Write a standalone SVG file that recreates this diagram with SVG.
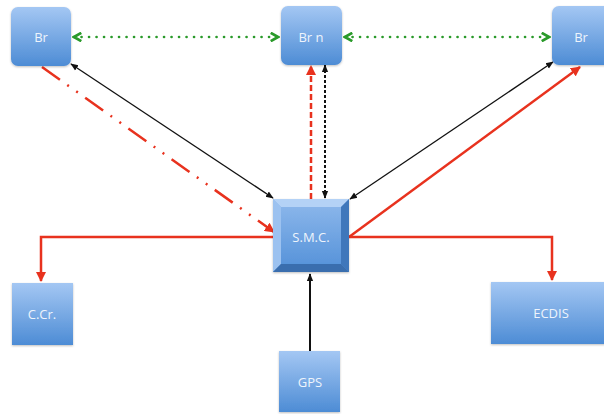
<svg xmlns="http://www.w3.org/2000/svg" width="604" height="414" viewBox="0 0 604 414">
  <defs>
    <linearGradient id="boxFill" x1="0" y1="0" x2="0" y2="1">
      <stop offset="0" stop-color="#a4c7f3"/>
      <stop offset="1" stop-color="#4d8cd5"/>
    </linearGradient>
    <linearGradient id="faceFill" x1="0" y1="0" x2="0" y2="1">
      <stop offset="0" stop-color="#8fb9ec"/>
      <stop offset="1" stop-color="#5290d8"/>
    </linearGradient>
    <marker id="arrRed" viewBox="0 0 10 10" refX="9" refY="5" markerWidth="4" markerHeight="4" orient="auto-start-reverse" markerUnits="strokeWidth">
      <path d="M0,0 L10,5 L0,10 z" fill="#e8321e"/>
    </marker>
    <marker id="arrBlack" viewBox="0 0 10 10" refX="9" refY="5" markerWidth="6" markerHeight="6" orient="auto-start-reverse" markerUnits="strokeWidth">
      <path d="M0,1 L10,5 L0,9 z" fill="#111"/>
    </marker>
    <marker id="arrBlackThick" viewBox="0 0 10 10" refX="9" refY="5" markerWidth="4" markerHeight="4" orient="auto-start-reverse" markerUnits="strokeWidth">
      <path d="M0,1 L10,5 L0,9 z" fill="#111"/>
    </marker>
    <marker id="arrGreen" viewBox="0 0 10 10" refX="8" refY="5" markerWidth="4" markerHeight="4" orient="auto-start-reverse" markerUnits="strokeWidth">
      <path d="M1,1 L8,5 L1,9" fill="none" stroke="#2a9a2a" stroke-width="2.6"/>
    </marker>
    <filter id="shadow" x="-10%" y="-10%" width="130%" height="130%">
      <feDropShadow dx="0" dy="1" stdDeviation="1" flood-color="#000" flood-opacity="0.25"/>
    </filter>
  </defs>
  <style>
    .node { fill: url(#boxFill); filter: url(#shadow); }
    .label { font-family: "Open Sans", "Liberation Sans", sans-serif; font-size: 13px; fill: #eef4fc; text-anchor: middle; }
    .red { stroke: #e8321e; stroke-width: 2.5; fill: none; }
    .black { stroke: #111; stroke-width: 1.3; fill: none; }
    .black.thick { stroke-width: 2; }
    .green { stroke: #2a9a2a; stroke-width: 2.6; fill: none; stroke-dasharray: 0.1 7.4; stroke-linecap: round; }
  </style>
  <rect width="604" height="414" fill="#ffffff"/>

  <g id="connectors">
    <!-- dotted links between bridges -->
    <line class="green" x1="74" y1="37" x2="278" y2="37" marker-start="url(#arrGreen)" marker-end="url(#arrGreen)"/>
    <line class="green" x1="345" y1="37" x2="549" y2="37" marker-start="url(#arrGreen)" marker-end="url(#arrGreen)"/>
    <!-- black two-way links -->
    <line class="black" x1="71" y1="64" x2="273" y2="198" marker-start="url(#arrBlack)" marker-end="url(#arrBlack)"/>
    <line class="black" x1="553" y1="62" x2="350" y2="199" marker-start="url(#arrBlack)" marker-end="url(#arrBlack)"/>
    <line class="black thick" x1="325" y1="65" x2="325" y2="198" stroke-dasharray="3 2" marker-start="url(#arrBlackThick)" marker-end="url(#arrBlackThick)"/>
    <line class="black thick" x1="310" y1="351" x2="310" y2="274" marker-end="url(#arrBlackThick)"/>
    <!-- red links from S.M.C. -->
    <line class="red" x1="311" y1="199" x2="311" y2="66" stroke-dasharray="6 3" marker-end="url(#arrRed)"/>
    <line class="red" x1="349" y1="237" x2="580" y2="67" marker-end="url(#arrRed)"/>
    <line class="red" x1="42" y1="67" x2="274" y2="232" stroke-dasharray="22 9 2 9 2 9" marker-end="url(#arrRed)"/>
    <polyline class="red" points="273,237 41,237 41,281" marker-end="url(#arrRed)"/>
    <polyline class="red" points="349,237 552,237 552,280" marker-end="url(#arrRed)"/>
  </g>

  <g id="br-left">
    <rect class="node" x="11" y="7" width="60" height="59" rx="7"/>
    <text class="label" x="41" y="42">Br</text>
  </g>
  <g id="br-n">
    <rect class="node" x="281" y="6" width="61" height="59" rx="7"/>
    <text class="label" x="311" y="42">Br n</text>
  </g>
  <g id="br-right">
    <rect class="node" x="552" y="6" width="60" height="59" rx="7"/>
    <text class="label" x="581" y="42">Br</text>
  </g>

  <g id="smc">
    <rect x="273" y="199" width="76" height="73" fill="url(#faceFill)" filter="url(#shadow)"/>
    <polygon points="273,199 349,199 341,207 281,207" fill="#b4d2f6"/>
    <polygon points="273,199 281,207 281,264 273,272" fill="#9cc2f0"/>
    <polygon points="349,199 349,272 341,264 341,207" fill="#3f77bb"/>
    <polygon points="273,272 281,264 341,264 349,272" fill="#3a6eae"/>
    <text class="label" x="311" y="242">S.M.C.</text>
  </g>

  <g id="ccr">
    <rect class="node" x="12" y="283" width="61" height="62"/>
    <text class="label" x="42" y="319">C.Cr.</text>
  </g>
  <g id="ecdis">
    <rect class="node" x="491" y="282" width="115" height="62"/>
    <text class="label" x="551" y="318">ECDIS</text>
  </g>
  <g id="gps">
    <rect class="node" x="279" y="351" width="61" height="61"/>
    <text class="label" x="310" y="387">GPS</text>
  </g>
</svg>
